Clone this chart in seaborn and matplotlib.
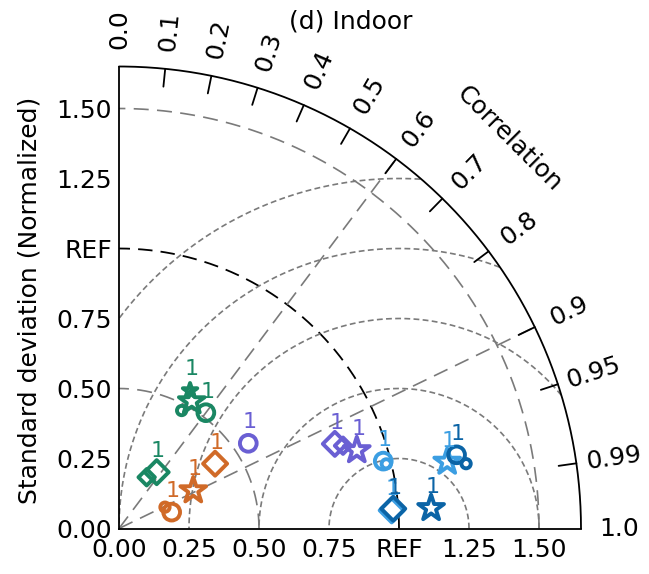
import numpy as np
import pandas as pd
import matplotlib
matplotlib.use("Agg")
import matplotlib.pyplot as plt
import seaborn as sns

# ---------------- data ----------------
title = "(d) Indoor"
corr_ticks = [0.0, 0.1, 0.2, 0.3, 0.4, 0.5, 0.6, 0.7, 0.8, 0.9, 0.95, 0.99, 1.0]
corr_tick_labels = ["0.0", "0.1", "0.2", "0.3", "0.4", "0.5", "0.6", "0.7",
                    "0.8", "0.9", "0.95", "0.99", "1.0"]
std_ticks = [0.0, 0.25, 0.5, 0.75, 1.0, 1.25, 1.5]
std_tick_labels = ["0.00", "0.25", "0.50", "0.75", "REF", "1.25", "1.50"]
rms_levels = [0.25, 0.5, 0.75, 1.0, 1.25]
std_levels = [0.5, 1.5]
corr_lines = [0.6, 0.9]

models = ["A"] * 6 + ["B"] * 4 + ["C"] * 4 + ["D"] * 4 + ["E"] * 4
kinds = ["circle", "star", "star", "circle", "diamond", "diamond",
         "circle", "circle", "star", "diamond",
         "circle", "diamond", "diamond", "star",
         "circle", "circle", "star", "diamond",
         "circle", "circle", "star", "diamond"]
variants = ["main", "main", "alt", "alt", "main", "alt",
            "main", "alt", "main", "main",
            "main", "main", "alt", "main",
            "main", "alt", "main", "main",
            "main", "alt", "main", "main"]
std_values = [0.517, 0.523, 0.554, 0.477, 0.242, 0.208,
              0.197, 0.181, 0.298, 0.414,
              0.553, 0.828, 0.853, 0.894,
              0.974, 0.982, 1.196, 0.976,
              1.234, 1.261, 1.117, 0.982]
corr_values = [0.600, 0.497, 0.458, 0.469, 0.556, 0.475,
               0.955, 0.907, 0.890, 0.829,
               0.835, 0.931, 0.938, 0.950,
               0.969, 0.972, 0.980, 0.9978,
               0.977, 0.983, 0.9979, 0.9974]
point_labels = ["1", "", "1", "", "1", "",
                "1", "", "1", "1",
                "1", "1", "", "1",
                "1", "", "1", "1",
                "1", "", "1", "1"]

# ---------------- styles ----------------
palette = {"A": "#1a8763", "B": "#d06a28", "C": "#6a5fd3",
           "D": "#3b9ee2", "E": "#0b64a6"}
marker_map = {"circle": "o", "star": "*", "diamond": "D"}
size_map = {("circle", "main"): 145, ("circle", "alt"): 45,
            ("star", "main"): 380, ("star", "alt"): 120,
            ("diamond", "main"): 150, ("diamond", "alt"): 70}
grey = "#7a7a7a"
FS = 18
RMAX = 1.65

sns.set_style("white")
plt.rcParams["font.family"] = ["DejaVu Sans"]
plt.rcParams["text.color"] = "black"
plt.rcParams["xtick.color"] = "black"
plt.rcParams["ytick.color"] = "black"
plt.rcParams["axes.labelcolor"] = "black"

df = pd.DataFrame({"model": models, "kind": kinds, "variant": variants,
                   "std": std_values, "corr": corr_values, "label": point_labels})
theta = np.arccos(df["corr"].clip(-1, 1))
df["x"] = df["std"] * np.cos(theta)
df["y"] = df["std"] * np.sin(theta)

fig = plt.figure(figsize=(6.49, 5.74), dpi=100)
ax = fig.add_axes([119 / 649, 1 - 528.5 / 574, 462 / 649, 462 / 574])
ax.set_xlim(0, RMAX)
ax.set_ylim(0, RMAX)
for s in ["top", "right"]:
    ax.spines[s].set_visible(False)
for s in ["left", "bottom"]:
    ax.spines[s].set_linewidth(1.3)
    ax.spines[s].set_color("black")

ax.set_xticks(std_ticks)
ax.set_xticklabels(std_tick_labels)
ax.set_yticks(std_ticks)
ax.set_yticklabels(std_tick_labels)
ax.tick_params(axis="both", direction="in", length=13, width=1.3,
               labelsize=FS, color="black", labelcolor="black")
ax.tick_params(axis="x", pad=7)
ax.tick_params(axis="y", pad=5)

# outer arc
t = np.linspace(0, np.pi / 2, 400)
ax.plot(RMAX * np.cos(t), RMAX * np.sin(t), color="black", lw=1.3,
        clip_on=False, zorder=3)

# std arcs
for r in std_levels:
    ax.plot(r * np.cos(t), r * np.sin(t), color=grey, lw=1.2,
            dashes=(9, 5), zorder=1)
ax.plot(1.0 * np.cos(t), 1.0 * np.sin(t), color="black", lw=1.3,
        dashes=(8, 4.5), zorder=1)

# correlation lines
for c in corr_lines:
    a = np.arccos(c)
    ax.plot([0, RMAX * np.cos(a)], [0, RMAX * np.sin(a)], color=grey, lw=1.2,
            dashes=(9, 5), zorder=1)

# RMS arcs centered on REF
tt = np.linspace(0, np.pi, 800)
for r in rms_levels:
    xs = 1.0 + r * np.cos(tt)
    ys = r * np.sin(tt)
    ok = (np.hypot(xs, ys) <= RMAX) & (xs >= 0)
    xs = np.where(ok, xs, np.nan)
    ys = np.where(ok, ys, np.nan)
    ax.plot(xs, ys, color=grey, lw=1.2, dashes=(3.5, 2), zorder=1)

# correlation ticks and labels
tick_len = 0.064
for c, lab in zip(corr_ticks, corr_tick_labels):
    a = np.arccos(c)
    if 0 < c < 1:
        ax.plot([RMAX * np.cos(a), (RMAX - tick_len) * np.cos(a)],
                [RMAX * np.sin(a), (RMAX - tick_len) * np.sin(a)],
                color="black", lw=1.3, clip_on=False, zorder=3)
    rl = 1.785
    ax.text(rl * np.cos(a), rl * np.sin(a), lab, rotation=np.degrees(a),
            rotation_mode="anchor", ha="center", va="center", fontsize=FS,
            clip_on=False)
ax.text(1.97 * np.cos(np.pi / 4), 1.97 * np.sin(np.pi / 4), "Correlation",
        rotation=-45, rotation_mode="anchor", ha="center", va="center",
        fontsize=FS, clip_on=False)

# data points
for (m, k, v), g in df.groupby(["model", "kind", "variant"], sort=False):
    col = palette[m]
    sns.scatterplot(data=g, x="x", y="y", ax=ax, marker=marker_map[k],
                    s=size_map[(k, v)], color=col, legend=False,
                    zorder=5, clip_on=False)
    coll = ax.collections[-1]
    coll.set_facecolor("none")
    coll.set_edgecolor(col)
    coll.set_linewidth(2.8)
    for _, row in g.iterrows():
        if row["label"]:
            ax.annotate(row["label"], (row["x"], row["y"]), xytext=(1, 8),
                        textcoords="offset points", ha="center", va="bottom",
                        fontsize=16, color=col, zorder=6)

ax.set_xlabel("")
ax.set_ylabel("")
fig.text(30 / 649, 1 - 300 / 574, "Standard deviation (Normalized)",
         rotation=90, ha="center", va="center", fontsize=FS)
fig.text(351 / 649, 1 - 21 / 574, title, ha="center", va="center", fontsize=FS)

fig.savefig("out.png", dpi=100)
